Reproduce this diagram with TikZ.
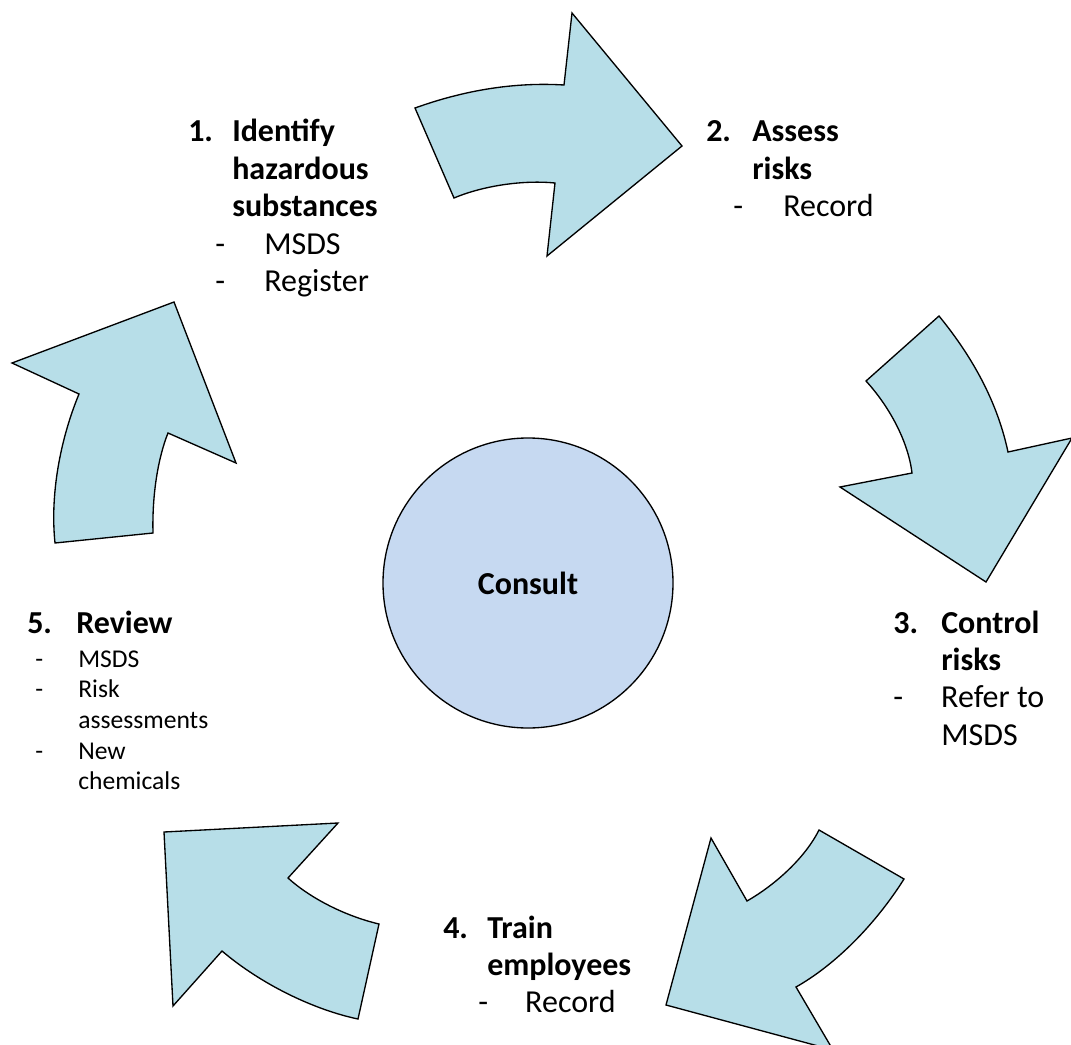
\documentclass[tikz,border=0pt]{standalone}
\usepackage{fontspec}
\setmainfont{Carlito}
\usepackage{xcolor}
\usepackage{tikz}
\usetikzlibrary{positioning}

\definecolor{arrowfill}{HTML}{B7DEE8}
\definecolor{consultfill}{HTML}{C6D9F1}

\newlength{\pxu}
\setlength{\pxu}{0.75pt}
\newcommand{\numrow}[3]{\makebox[#1][l]{\textbf{#2}}\textbf{#3}}
\newcommand{\subrow}[3]{\hspace*{#1}\makebox[#2][l]{-}#3}

\tikzset{
  cyclearrow/.style={draw=black, fill=arrowfill, line width=1pt, line join=miter},
  steplabel/.style={anchor=base west, inner sep=0pt, font=\fontsize{24}{28.1}\selectfont},
  sublabel/.style={anchor=base west, inner sep=0pt, font=\fontsize{19.2}{23.06}\selectfont},
}

\begin{document}
\begin{tikzpicture}[x=0.75pt, y=-0.75pt]
  \useasboundingbox (0,0) rectangle (1071,1045);

  % centre
  \node (consult) [circle, draw=black, line width=1pt, fill=consultfill, minimum size=290\pxu, inner sep=0pt,
    font=\fontsize{24}{28.1}\selectfont\bfseries] at (528,583) {Consult};

  % arrows
  \draw[cyclearrow] (415,108) .. controls (465,90) and (515,82) .. (564,85) -- (572,13) -- (682,146)
    -- (547,256) -- (555,183) .. controls (525,180) and (485,185) .. (454,198) -- cycle;
  \draw[cyclearrow] (939,316) -- (866,381) .. controls (888,405) and (908,440) .. (912,473) -- (840,487)
    -- (986,582) -- (1072,438) -- (1008,452) .. controls (998,405) and (975,360) .. (939,316) -- cycle;
  \draw[cyclearrow] (819,830) -- (904,879) .. controls (875,925) and (835,965) .. (796,987) -- (833,1050)
    -- (666,1005) -- (711,838) -- (747,901) .. controls (775,885) and (805,858) .. (819,830) -- cycle;
  \draw[cyclearrow] (164,832) -- (338,823) -- (288,878) .. controls (310,898) and (345,916) .. (379,924)
    -- (358,1019) .. controls (315,1010) and (262,985) .. (222,951) -- (173,1006) -- cycle;
  \draw[cyclearrow] (12,363) -- (174,302) -- (236,463) -- (168,433) .. controls (158,458) and (152,495) .. (153,533)
    -- (55,543) .. controls (50,495) and (60,440) .. (79,394) -- cycle;

  % steps
  \node (identify) [steplabel] at (188,142) {\begin{tabular}[t]{@{}l@{}}
    \numrow{44\pxu}{1.}{Identify}\\
    \hspace*{44\pxu}\textbf{hazardous}\\
    \hspace*{44\pxu}\textbf{substances}\\
    \subrow{27\pxu}{49\pxu}{MSDS}\\
    \subrow{27\pxu}{49\pxu}{Register}
  \end{tabular}};
  \node (assess) [steplabel] at (706,142) {\begin{tabular}[t]{@{}l@{}}
    \numrow{46\pxu}{2.}{Assess}\\
    \hspace*{46\pxu}\textbf{risks}\\
    \subrow{27\pxu}{50\pxu}{Record}
  \end{tabular}};
  \node (control) [steplabel] at (893,633) {\begin{tabular}[t]{@{}l@{}}
    \numrow{48\pxu}{3.}{Control}\\
    \hspace*{48\pxu}\textbf{risks}\\
    \makebox[48\pxu][l]{-}Refer to\\
    \hspace*{48\pxu}MSDS
  \end{tabular}};
  \node (train) [steplabel] at (443,938) {\begin{tabular}[t]{@{}l@{}}
    \numrow{44\pxu}{4.}{Train}\\
    \hspace*{44\pxu}\textbf{employees}\\
    \subrow{35\pxu}{47\pxu}{Record}
  \end{tabular}};
  \node (review) [steplabel] at (27,633) {\numrow{49\pxu}{5.}{Review}};
  \node (reviewitems) [sublabel] at (27,667) {\begin{tabular}[t]{@{}l@{}}
    \subrow{8\pxu}{43\pxu}{MSDS}\\
    \subrow{8\pxu}{43\pxu}{Risk}\\
    \hspace*{51\pxu}assessments\\
    \subrow{8\pxu}{43\pxu}{New}\\
    \hspace*{51\pxu}chemicals
  \end{tabular}};
\end{tikzpicture}
\end{document}
